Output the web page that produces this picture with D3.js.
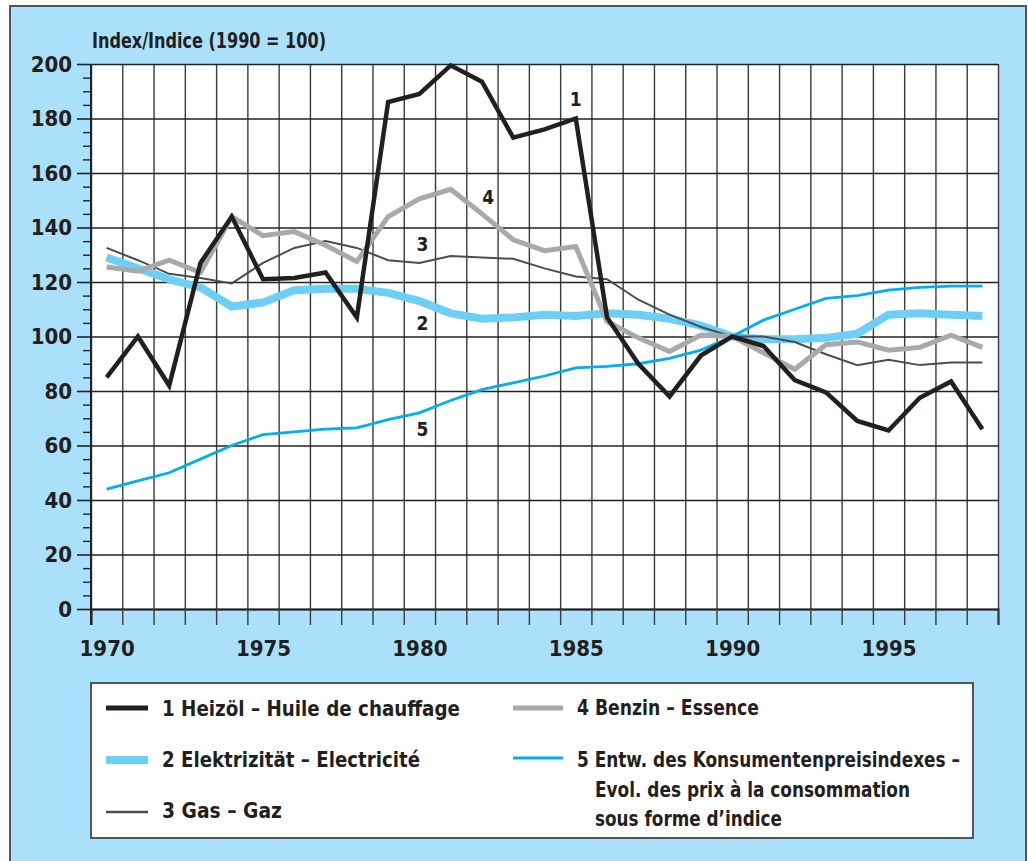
<!DOCTYPE html>
<html>
<head>
<meta charset="utf-8">
<script src="https://cdn.jsdelivr.net/npm/d3@7"></script>
<style>
  html, body { margin: 0; padding: 0; background: #ffffff; }
  svg { display: block; }
</style>
</head>
<body>
<div id="chart"></div>
<script>
// values (index, 1990 = 100)
const years = [1970, 1971, 1972, 1973, 1974, 1975, 1976, 1977, 1978, 1979,
    1980, 1981, 1982, 1983, 1984, 1985, 1986, 1987, 1988, 1989,
    1990, 1991, 1992, 1993, 1994, 1995, 1996, 1997, 1998];
const heizoel = [85, 100, 82, 127, 144, 121, 121.5, 123.5, 107, 186,
    189, 199.5, 193.5, 173, 176, 180, 107, 90, 78, 93,
    100, 96.5, 84, 79.5, 69, 65.5, 77.5, 83.5, 66];
const elektrizitaet = [129, 125, 121, 118, 111, 112.5, 117, 117.5, 117.5, 116,
    113, 108.5, 106.5, 107, 108, 107.5, 108.5, 108, 106.5, 104,
    100, 99, 99, 99.5, 101, 108, 108.5, 108, 107.5];
const gas = [132.5, 128, 123, 121.5, 119.5, 127, 132.5, 135, 132.5, 128,
    127, 129.5, 129, 128.5, 125, 122, 121, 113.5, 108, 103.5,
    100, 100, 98, 93.5, 89.5, 91.5, 89.5, 90.5, 90.5];
const benzin = [125.5, 124, 128, 123.5, 144, 137, 138.5, 133.5, 127.5, 144,
    150.5, 154, 145, 135.5, 131.5, 133, 105.5, 99.5, 94.5, 100.5,
    100, 94, 88, 97, 98, 95, 96, 100.5, 96];
const konsumentenpreise = [44, 47, 50, 55, 60, 64, 65, 66, 66.5, 69.5,
    72, 76.5, 80.5, 83, 85.5, 88.5, 89, 90, 92, 95,
    100, 106, 110, 114, 115, 117, 118, 118.5, 118.5];

const yearLabels = [1970, 1975, 1980, 1985, 1990, 1995];
const yTicks = [0, 20, 40, 60, 80, 100, 120, 140, 160, 180, 200];
const yTitle = "Index/Indice (1990 = 100)";

const legendItems = [
    { label: ["1 Heizöl – Huile de chauffage"], data: heizoel, num: "1" },
    { label: ["2 Elektrizität – Electricité"], data: elektrizitaet, num: "2" },
    { label: ["3 Gas – Gaz"], data: gas, num: "3" },
    { label: ["4 Benzin – Essence"], data: benzin, num: "4" },
    { label: ["5 Entw. des Konsumentenpreisindexes –",
              "Evol. des prix à la consommation",
              "sous forme d’indice"], data: konsumentenpreise, num: "5" }
];

// styles per series (same order as legendItems)
const styles = [
    { colour: "#231f20", width: 4.5 },
    { colour: "#6dcff6", width: 8 },
    { colour: "#4d4d4d", width: 2 },
    { colour: "#a7a9ac", width: 5 },
    { colour: "#00aeef", width: 2.8 }
];

const width = 1028;
const height = 861;
const margin = { top: 64, right: 30, bottom: 252, left: 91 };
const graphW = width - margin.left - margin.right;
const graphH = height - margin.top - margin.bottom;

const font = "'Liberation Sans Narrow', 'DejaVu Sans Condensed', 'Open Sans', sans-serif";
const ink = "#231f20";
const gridColour = "#3a3a3a";

let svg = d3.select("#chart").append("svg")
    .attr("width", width)
    .attr("height", height)
    .style("font-family", font)
    .style("font-weight", 700);

// outer blue panel
svg.append("rect")
    .attr("x", 10).attr("y", 6)
    .attr("width", 1016).attr("height", 880)
    .attr("fill", "#abe0fa")
    .attr("stroke", "#555555")
    .attr("stroke-width", 2);

let group = svg.append("g")
    .attr("transform", `translate(${margin.left}, ${margin.top})`);

group.append("rect")
    .attr("width", graphW)
    .attr("height", graphH)
    .attr("fill", "#ffffff");

// x axis setup: one band per year, gridlines on the year boundaries
const x = d3.scaleLinear()
    .domain([years[0] - 0.5, years[years.length - 1] + 0.5])
    .range([0, graphW]);
const boundaries = years.map(d => d - 0.5).concat([years[years.length - 1] + 0.5]);

// y axis setup
const y = d3.scaleLinear()
    .domain([0, 200])
    .range([graphH, 0]);
const minorTicks = d3.range(0, 200, 5).filter(d => d % 20 !== 0);

// vertical gridlines
group.append("g")
    .attr("class", "grid")
    .attr("color", gridColour)
    .style("stroke-width", 1.4)
    .call(d3.axisBottom(x)
        .tickValues(boundaries)
        .tickSize(graphH)
        .tickFormat("")
    )
    .call(g => g.select(".domain").remove());

// horizontal gridlines
group.append("g")
    .attr("class", "grid")
    .attr("color", "#222222")
    .style("stroke-width", 1.4)
    .call(d3.axisLeft(y)
        .tickValues(yTicks)
        .tickSize(-graphW)
        .tickFormat("")
    )
    .call(g => g.select(".domain").remove());

// x axis ticks below the plot
group.append("g")
    .attr("transform", `translate(0, ${graphH})`)
    .attr("color", gridColour)
    .style("stroke-width", 1.4)
    .call(d3.axisBottom(x)
        .tickValues(boundaries)
        .tickSize(16)
        .tickFormat("")
    )
    .call(g => g.select(".domain").attr("stroke", "#222222").attr("stroke-width", 2));

// x axis labels
group.append("g")
    .attr("transform", `translate(0, ${graphH})`)
    .call(d3.axisBottom(x)
        .tickValues(yearLabels)
        .tickSize(0)
        .tickPadding(31)
        .tickFormat(d3.format("d"))
    )
    .call(g => g.select(".domain").remove())
    .selectAll(".tick text")
    .attr("fill", ink)
    .style("font-family", font)
    .style("font-weight", 700)
    .style("font-size", "22px");

// y axis minor ticks
group.append("g")
    .attr("color", "#222222")
    .style("stroke-width", 1.4)
    .call(d3.axisLeft(y)
        .tickValues(minorTicks)
        .tickSize(8)
        .tickFormat("")
    )
    .call(g => g.select(".domain").remove());

// y axis with labels
group.append("g")
    .attr("color", "#222222")
    .style("stroke-width", 1.6)
    .call(d3.axisLeft(y)
        .tickValues(yTicks)
        .tickSize(14)
        .tickPadding(5)
    )
    .call(g => g.select(".domain").remove())
    .selectAll(".tick text")
    .attr("fill", ink)
    .style("font-family", font)
    .style("font-weight", 700)
    .style("font-size", "22px");

// left axis line runs down to the bottom of the x ticks
group.append("line")
    .attr("x1", x(boundaries[0])).attr("x2", x(boundaries[0]))
    .attr("y1", y(200)).attr("y2", graphH + 16)
    .attr("stroke", "#222222")
    .attr("stroke-width", 2);

// axis title
svg.append("text")
    .attr("x", margin.left + 1)
    .attr("y", 48)
    .attr("fill", ink)
    .style("font-size", "21px")
    .attr("textLength", 234)
    .attr("lengthAdjust", "spacingAndGlyphs")
    .text(yTitle);

// the series lines
const line = d3.line()
    .x((d, i) => x(years[i]))
    .y(d => y(d));

const drawOrder = [1, 4, 2, 3, 0];
const lines = group.append("g").attr("class", "series");
drawOrder.forEach(k => {
    lines.append("path")
        .datum(legendItems[k].data)
        .style("fill", "none")
        .style("stroke", styles[k].colour)
        .style("stroke-width", styles[k].width)
        .style("stroke-linejoin", "miter")
        .style("stroke-linecap", "butt")
        .attr("d", line);
});

// numbers next to the lines
const numberLabels = [
    { num: "1", year: 1985, value: 184.5 },
    { num: "4", year: 1982.2, value: 148.5 },
    { num: "3", year: 1980.1, value: 131.5 },
    { num: "2", year: 1980.1, value: 102.5 },
    { num: "5", year: 1980.1, value: 63.5 }
];
group.append("g")
    .selectAll("text")
    .data(numberLabels)
    .enter()
    .append("text")
    .attr("x", d => x(d.year))
    .attr("y", d => y(d.value))
    .attr("text-anchor", "middle")
    .attr("fill", ink)
    .style("font-size", "19px")
    .text(d => d.num);

// legend
const legend = svg.append("g").attr("class", "legend");
legend.append("rect")
    .attr("x", 91).attr("y", 683)
    .attr("width", 882).attr("height", 155)
    .attr("fill", "#ffffff")
    .attr("stroke", "#555555")
    .attr("stroke-width", 2);

const legendPos = [
    { lx: 106, lw: 42, ly: 708, tx: 162, ty: 716, widths: [298] },
    { lx: 106, lw: 42, ly: 760, tx: 162, ty: 767, widths: [258] },
    { lx: 106, lw: 42, ly: 812, tx: 162, ty: 818, widths: [120] },
    { lx: 513, lw: 50, ly: 708, tx: 577, ty: 715, widths: [182] },
    { lx: 513, lw: 50, ly: 758, tx: 577, ty: 767, widths: [383, 315, 187] }
];
const legendStroke = [5, 8, 2.5, 5, 3];
const lineGap = [0, 30, 59];

legendItems.forEach((item, k) => {
    const p = legendPos[k];
    legend.append("line")
        .attr("x1", p.lx).attr("x2", p.lx + p.lw)
        .attr("y1", p.ly).attr("y2", p.ly)
        .attr("stroke", styles[k].colour)
        .attr("stroke-width", legendStroke[k]);
    item.label.forEach((txt, j) => {
        legend.append("text")
            .attr("x", j === 0 ? p.tx : p.tx + 18)
            .attr("y", p.ty + lineGap[j])
            .attr("fill", ink)
            .style("font-size", "22px")
            .attr("textLength", p.widths[j])
            .attr("lengthAdjust", "spacingAndGlyphs")
            .text(txt);
    });
});
</script>
</body>
</html>
